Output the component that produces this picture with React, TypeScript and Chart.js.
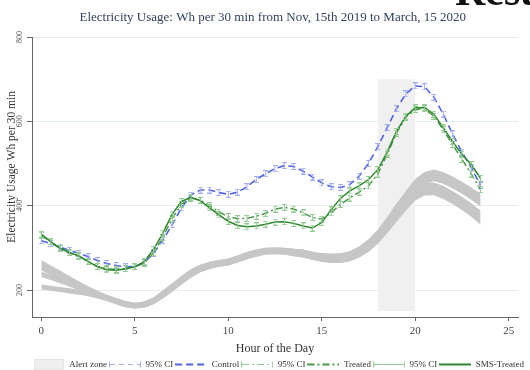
import React, { useEffect, useRef } from "react";
import { Chart, registerables } from "chart.js";

Chart.register(...registerables);

const HOURS = [0, 0.5, 1, 1.5, 2, 2.5, 3, 3.5, 4, 4.5, 5, 5.5, 6, 6.5, 7, 7.5, 8, 8.5, 9, 9.5, 10, 10.5, 11, 11.5, 12, 12.5, 13, 13.5, 14, 14.5, 15, 15.5, 16, 16.5, 17, 17.5, 18, 18.5, 19, 19.5, 20, 20.5, 21, 21.5, 22, 22.5, 23, 23.5];

const CONTROL = [317, 310, 302, 294, 287, 279, 270, 263, 258, 255, 256, 265, 287, 318, 355, 395, 425, 437, 437, 431, 427, 432, 445, 462, 476, 488, 495, 493, 482, 468, 454, 445, 443, 450, 470, 500, 540, 585, 630, 665, 684, 682, 657, 617, 570, 527, 490, 448];
const TREATED = [330, 314, 299, 288, 280, 268, 256, 250, 249, 251, 255, 264, 288, 325, 370, 403, 418, 413, 400, 385, 374, 369, 370, 375, 382, 392, 396, 392, 383, 372, 368, 383, 403, 418, 432, 447, 475, 522, 572, 610, 628, 630, 612, 580, 545, 510, 475, 438];
const SMS_TREATED = [332, 315, 299, 289, 281, 268, 255, 248, 247, 250, 255, 267, 296, 335, 380, 410, 420, 412, 395, 378, 363, 353, 350, 352, 356, 361, 362, 358, 352, 347, 360, 390, 417, 435, 447, 462, 485, 527, 576, 612, 632, 633, 617, 585, 552, 522, 497, 465];

// gray bands (lower / upper edges)
const BAND1_LO = [246, 236, 226, 215, 204, 193, 183, 174, 166, 159, 156, 158, 166, 180, 196, 213, 229, 242, 250, 255, 258, 265, 273, 279, 284, 285, 284, 280, 277, 272, 267, 264, 264, 268, 277, 291, 310, 335, 362, 395, 428, 452, 458, 452, 441, 428, 414, 398];
const BAND1_HI = [271, 258, 246, 233, 221, 209, 199, 189, 181, 174, 170, 173, 182, 199, 216, 233, 249, 260, 267, 271, 275, 282, 290, 296, 300, 301, 300, 298, 296, 291, 287, 286, 287, 292, 303, 320, 343, 372, 405, 435, 463, 480, 486, 480, 469, 457, 443, 428];
const BAND2_LO = [231, 224, 216, 208, 200, 191, 182, 174, 166, 159, 156, 158, 166, 180, 196, 213, 229, 242, 250, 255, 258, 265, 273, 279, 284, 285, 284, 280, 277, 272, 267, 264, 264, 268, 277, 291, 310, 335, 362, 388, 412, 424, 425, 416, 404, 390, 374, 355];
const BAND2_HI = [244, 236, 228, 220, 212, 204, 196, 188, 181, 174, 170, 173, 182, 199, 216, 233, 249, 260, 267, 271, 275, 282, 290, 296, 300, 301, 300, 298, 296, 291, 287, 286, 287, 292, 303, 320, 343, 372, 405, 425, 447, 455, 455, 447, 435, 421, 406, 388];
const BAND3_HOURS = [0, 0.5, 1, 1.5, 2, 2.5, 3, 3.5];
const BAND3_LO = [201, 198, 195, 192, 189, 185, 180, 174];
const BAND3_HI = [213, 210, 207, 204, 201, 198, 195, 188];

const ALERT_HOURS = [18, 20];
const ALERT_TOP = [700, 700];
const ALERT_BOTTOM = 150;

const X_TICKS = [0, 5, 10, 15, 20, 25];
const Y_TICKS = [200, 400, 600, 800];

const LEGEND_LABELS = ["Alert zone", "95% CI", "Control", "95% CI", "Treated", "95% CI", "SMS-Treated"];

const FONT = "'Liberation Serif', 'Times New Roman', serif";

const BLUE = "#5064e4";
const BLUE_CI = "#a3adf2";
const GREEN_T = "#4b9a4b";
const GREEN_S = "#2f872f";
const GREEN_CI = "#93cb93";
const BAND = "#c6c6c6";

function makeGlyph(color: string) {
  const w = 5, h = 7;
  const c = document.createElement("canvas");
  c.width = w; c.height = h;
  const g = c.getContext("2d")!;
  g.strokeStyle = color;
  g.lineWidth = 1;
  g.beginPath();
  g.moveTo(2.5, 0.5); g.lineTo(2.5, h - 0.5);
  g.moveTo(0, 0.5); g.lineTo(w, 0.5);
  g.moveTo(0, h - 0.5); g.lineTo(w, h - 0.5);
  g.stroke();
  return c;
}

function makeLegendLine(color: string, dash: number[], width: number, caps: boolean) {
  const w = 32, h = 9;
  const c = document.createElement("canvas");
  c.width = w; c.height = h;
  const g = c.getContext("2d")!;
  g.strokeStyle = color;
  g.lineWidth = width;
  g.setLineDash(dash);
  g.beginPath();
  g.moveTo(caps ? 1 : 0, 4.5); g.lineTo(caps ? 31 : 32, 4.5);
  g.stroke();
  if (caps) {
    g.setLineDash([]);
    g.lineWidth = 1;
    g.beginPath();
    g.moveTo(0.5, 1.5); g.lineTo(0.5, 7.5);
    g.moveTo(31.5, 1.5); g.lineTo(31.5, 7.5);
    g.stroke();
  }
  return c;
}

function makeLegendBox() {
  const c = document.createElement("canvas");
  c.width = 30; c.height = 11;
  const g = c.getContext("2d")!;
  g.fillStyle = "#efefef";
  g.fillRect(0, 0, 30, 11);
  g.strokeStyle = "#e3e3e3";
  g.strokeRect(0.5, 0.5, 29, 10);
  return c;
}

const pts = (xs: number[], ys: number[]) => xs.map((x, i) => ({ x, y: ys[i] }));

export default function App() {
  const ref = useRef<HTMLCanvasElement | null>(null);

  useEffect(() => {
    if (!ref.current) return;
    const blueGlyph = makeGlyph(BLUE_CI);
    const greenGlyph = makeGlyph(GREEN_CI);
    const legendImgs = [
      makeLegendBox(),
      makeLegendLine(BLUE_CI, [5, 4], 1, true),
      makeLegendLine(BLUE, [7, 4], 2, false),
      makeLegendLine(GREEN_CI, [7, 3, 2, 3], 1, true),
      makeLegendLine(GREEN_T, [7, 3, 2, 3], 2, false),
      makeLegendLine(GREEN_CI, [], 1, true),
      makeLegendLine(GREEN_S, [], 2, false),
    ];

    const bandDs = (data: any, fill: any) => ({
      data,
      borderWidth: 0,
      pointRadius: 0,
      backgroundColor: BAND,
      borderColor: BAND,
      fill,
    });

    const chart = new Chart(ref.current, {
      type: "line",
      data: {
        datasets: [
          {
            label: "SMS-Treated",
            data: pts(HOURS, SMS_TREATED),
            borderColor: GREEN_S,
            borderWidth: 1.5,
            pointStyle: greenGlyph as any,
            pointRadius: 3,
            fill: false,
          },
          {
            label: "Treated",
            data: pts(HOURS, TREATED),
            borderColor: GREEN_T,
            borderWidth: 1.5,
            borderDash: [7, 3, 2, 3],
            pointStyle: greenGlyph as any,
            pointRadius: 3,
            fill: false,
          },
          {
            label: "Control",
            data: pts(HOURS, CONTROL),
            borderColor: BLUE,
            borderWidth: 1.6,
            borderDash: [7, 4],
            pointStyle: blueGlyph as any,
            pointRadius: 3,
            fill: false,
          },
          bandDs(pts(HOURS, BAND1_LO), false),
          bandDs(pts(HOURS, BAND1_HI), 3),
          bandDs(pts(HOURS, BAND2_LO), false),
          bandDs(pts(HOURS, BAND2_HI), 5),
          bandDs(pts(BAND3_HOURS, BAND3_LO), false),
          bandDs(pts(BAND3_HOURS, BAND3_HI), 7),
          {
            label: "Alert zone",
            data: pts(ALERT_HOURS, ALERT_TOP),
            borderWidth: 0,
            pointRadius: 0,
            backgroundColor: "#f0f0f0",
            borderColor: "#f0f0f0",
            fill: { value: ALERT_BOTTOM },
          },
        ] as any,
      },
      options: {
        animation: false,
        responsive: false,
        layout: { padding: { left: 0, right: 4, top: 0, bottom: -9 } },
        plugins: {
          tooltip: { enabled: false },
          title: {
            display: true,
            text: "      Electricity Usage: Wh per 30 min from Nov, 15th 2019 to March, 15 2020",
            color: "#34405c",
            font: { family: FONT, size: 13, weight: "normal" },
            padding: { top: 10, bottom: 11.4 },
          },
          legend: {
            display: true,
            position: "bottom",
            align: "end",
            labels: {
              usePointStyle: true,
              pointStyleWidth: 32,
              padding: 2,
              color: "#333",
              font: { family: FONT, size: 9 },
              generateLabels: () =>
                LEGEND_LABELS.map((t, i) => ({
                  text: t,
                  pointStyle: legendImgs[i] as any,
                  fillStyle: "rgba(0,0,0,0)",
                  strokeStyle: "rgba(0,0,0,0)",
                  lineWidth: 0,
                  hidden: false,
                  fontColor: "#333",
                })) as any,
            },
          },
        },
        scales: {
          x: {
            type: "linear",
            min: -0.5,
            max: 25.5,
            afterBuildTicks: (s: any) => {
              s.ticks = X_TICKS.map((v) => ({ value: v }));
            },
            afterFit: (s: any) => {
              s.height = 41;
            },
            ticks: { color: "#444", padding: 4, font: { family: FONT, size: 11 } },
            grid: { display: true, drawOnChartArea: false, drawTicks: true, tickLength: 4, tickColor: "#666" },
            border: { display: true, color: "#666" },
            title: {
              display: true,
              text: "Hour of the Day",
              color: "#333",
              font: { family: FONT, size: 12 },
              padding: { top: 0, bottom: 2 },
            },
          },
          y: {
            type: "linear",
            min: 136,
            max: 800,
            afterBuildTicks: (s: any) => {
              s.ticks = Y_TICKS.map((v) => ({ value: v }));
            },
            afterFit: (s: any) => {
              s.width = 32;
            },
            ticks: {
              color: "#555",
              padding: 1,
              minRotation: 90,
              maxRotation: 90,
              crossAlign: "center",
              font: { family: FONT, size: 8 },
            },
            grid: { color: "#e2eef0", tickLength: 5, tickColor: "#666" },
            border: { display: true, color: "#666" },
            title: {
              display: true,
              text: "       Electricity Usage Wh per 30 min",
              color: "#333",
              font: { family: FONT, size: 11.5 },
              padding: { top: 5.5, bottom: 0 },
            },
          },
          y2: {
            type: "linear",
            position: "right",
            display: true,
            grid: { display: false, drawTicks: false },
            ticks: { display: false },
            border: { display: false },
            afterFit: (s: any) => {
              s.width = 8;
            },
          },
        },
      } as any,
    });
    return () => chart.destroy();
  }, []);

  return (
    <div
      style={{
        position: "fixed",
        left: 0,
        top: 0,
        width: 530,
        height: 370,
        background: "#fff",
        overflow: "hidden",
      }}
    >
      <canvas ref={ref} width={530} height={370} style={{ display: "block" }} />
      <div
        style={{
          position: "absolute",
          left: 455,
          top: -30,
          fontFamily: FONT,
          fontWeight: "bold",
          fontSize: 42,
          lineHeight: "42px",
          color: "#111",
          whiteSpace: "nowrap",
        }}
      >
        Results
      </div>
    </div>
  );
}
